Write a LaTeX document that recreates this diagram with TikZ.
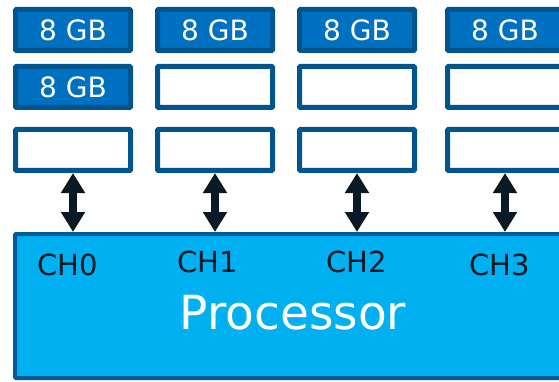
\documentclass[tikz,border=0pt]{standalone}
\usepackage{fontspec}
\setmainfont{DejaVu Sans}
\usetikzlibrary{arrows.meta}
\definecolor{dimmblue}{HTML}{0070C0}
\definecolor{dimmedge}{HTML}{00558F}
\definecolor{cpublue}{HTML}{00B0F0}
\definecolor{cpuedge}{HTML}{005A9C}
\definecolor{busink}{HTML}{0A1A24}
\tikzset{>={Triangle[length=20pt,width=23pt]}}
\tikzset{slot/.style={draw=dimmedge,line width=5pt,minimum width=115pt,minimum height=41pt,inner sep=0pt,rounded corners=1pt}}
\tikzset{filledslot/.style={slot,fill=dimmblue,text=white,font=\fontsize{28}{30}\selectfont}}
\tikzset{freeslot/.style={slot,fill=white}}
\tikzset{bus/.style={draw=busink,line width=8pt}}

\begin{document}
\begin{tikzpicture}[x=1pt,y=-1pt]
    \useasboundingbox (0,0) rectangle (559,382);
    % memory slots, three per channel
    \node[filledslot] (S01) at (73,30) {8 GB};
    \node[filledslot] (S02) at (73,87) {8 GB};
    \node[freeslot] (S03) at (73,150) {};
    \node[filledslot] (S11) at (215,30) {8 GB};
    \node[freeslot] (S12) at (215,87) {};
    \node[freeslot] (S13) at (215,150) {};
    \node[filledslot] (S21) at (357,30) {8 GB};
    \node[freeslot] (S22) at (357,87) {};
    \node[freeslot] (S23) at (357,150) {};
    \node[filledslot] (S31) at (505,30) {8 GB};
    \node[freeslot] (S32) at (505,87) {};
    \node[freeslot] (S33) at (505,150) {};
    % processor
    \node[draw=cpuedge,fill=cpublue,line width=4pt,minimum width=553pt,minimum height=144pt,rounded corners=1pt] (proc) at (291.5,306) {};
    \node[text=white,font=\fontsize{47}{50}\selectfont] (ptxt) at (293,313) {Processor};
    \node[text=busink,font=\fontsize{29}{31}\selectfont] (ch0) at (68,265) {CH0};
    \node[text=busink,font=\fontsize{29}{31}\selectfont] (ch1) at (208,262) {CH1};
    \node[text=busink,font=\fontsize{29}{31}\selectfont] (ch2) at (357,262) {CH2};
    \node[text=busink,font=\fontsize{29}{31}\selectfont] (ch3) at (500,265) {CH3};
    % buses
    \draw[bus,<->] (S03.south) -- (S03.south |- proc.north);
    \draw[bus,<->] (S13.south) -- (S13.south |- proc.north);
    \draw[bus,<->] (S23.south) -- (S23.south |- proc.north);
    \draw[bus,<->] (S33.south) -- (S33.south |- proc.north);
  \end{tikzpicture}
\end{document}
